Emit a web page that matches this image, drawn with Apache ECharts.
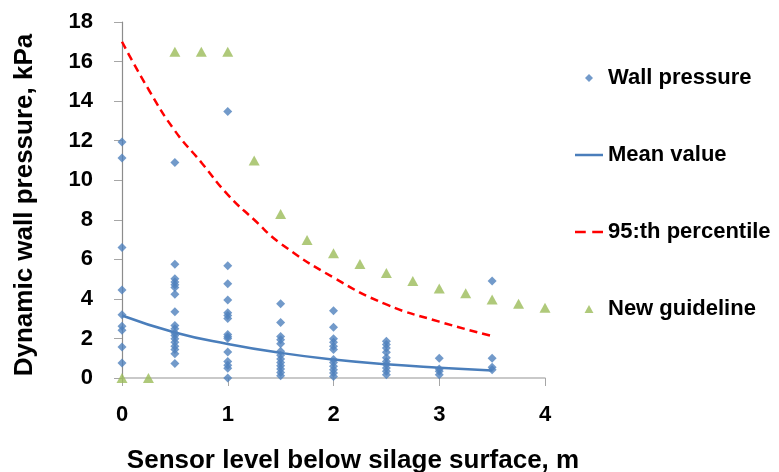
<!DOCTYPE html>
<html>
<head>
<meta charset="utf-8">
<script src="https://cdn.jsdelivr.net/npm/echarts@6/dist/echarts.min.js"></script>
<style>
html,body{margin:0;padding:0;background:#fff;}
#chart{width:779px;height:472px;}
</style>
</head>
<body>
<div id="chart"></div>
<script>
// Sensor levels (m) and wall pressure readings (kPa) at each level
const levels = [0, 0.5, 1, 1.5, 2, 2.5, 3, 3.5];
const wallAt0   = [11.93, 11.12, 6.6, 4.45, 3.2, 2.62, 2.42, 1.57, 0.76];
const wallAt05  = [10.89, 5.75, 5.02, 4.85, 4.72, 4.57, 4.23, 3.35, 2.65, 2.49, 2.28, 2.15, 1.98, 1.81, 1.6, 1.44, 1.23, 0.73];
const wallAt1   = [13.48, 5.68, 4.77, 3.94, 3.3, 3.16, 3.01, 2.2, 2.08, 2.0, 1.32, 0.84, 0.64, 0.49, 0.0];
const wallAt15  = [3.76, 2.81, 2.1, 1.94, 1.73, 1.35, 1.15, 0.96, 0.79, 0.62, 0.46, 0.28, 0.12];
const wallAt2   = [3.4, 2.57, 1.98, 1.81, 1.6, 1.44, 0.93, 0.79, 0.59, 0.42, 0.25, 0.08];
const wallAt25  = [1.86, 1.69, 1.52, 1.3, 1.02, 0.84, 0.68, 0.51, 0.34, 0.17];
const wallAt3   = [1.0, 0.46, 0.34, 0.17];
const wallAt35  = [4.9, 1.0, 0.54, 0.42];

// Mean value curve
const meanX = [0, 0.5, 1, 1.5, 2, 2.5, 3, 3.5];
const meanY = [3.16, 2.3, 1.72, 1.27, 0.93, 0.69, 0.52, 0.38];

// 95:th percentile curve
const p95X = [0, 0.25, 0.5, 0.75, 1, 1.25, 1.5, 2, 2.5, 3, 3.5];
const p95Y = [17.0, 14.6, 12.5, 10.9, 9.27, 8.0, 6.8, 5.08, 3.72, 2.85, 2.12];

// New guideline
const guideX = [0, 0.25, 0.5, 0.75, 1, 1.25, 1.5, 1.75, 2, 2.25, 2.5, 2.75, 3, 3.25, 3.5, 3.75, 4];
const guideY = [0, 0, 16.5, 16.5, 16.5, 11.0, 8.29, 6.98, 6.31, 5.77, 5.31, 4.9, 4.53, 4.28, 3.97, 3.75, 3.55];

const seriesNames = ['Wall pressure', 'Mean value', '95:th percentile', 'New guideline'];
const xAxisTitle = 'Sensor level below silage surface, m';
const yAxisTitle = 'Dynamic wall pressure, kPa';

const wallGroups = [wallAt0, wallAt05, wallAt1, wallAt15, wallAt2, wallAt25, wallAt3, wallAt35];
const wallData = [];
wallGroups.forEach((g, i) => g.forEach(v => wallData.push([levels[i], v])));
const zip = (xs, ys) => xs.map((x, i) => [x, ys[i]]);

const BLUE = '#4f81bd', LINEBLUE = '#4a7ebb', RED = '#ff0000', GREEN = '#9bbb59';
const FONT = 'Liberation Sans';

const chart = echarts.init(document.getElementById('chart'), null, {renderer: 'canvas'});
chart.setOption({
  animation: false,
  backgroundColor: '#ffffff',
  grid: {left: 122, right: 234, top: 22, bottom: 94, containLabel: false, outerBoundsMode: 'none'},
  legend: {
    orient: 'vertical',
    left: 570,
    top: 61,
    itemWidth: 28,
    itemHeight: 8,
    itemGap: 53,
    symbolKeepAspect: true,
    data: [
      {name: seriesNames[0], icon: 'path://M0,5L5,0L10,5L5,10Z', itemStyle: {color: BLUE}},
      {name: seriesNames[1], icon: 'path://M0,0L28,0L28,2.5L0,2.5Z', itemStyle: {color: LINEBLUE}},
      {name: seriesNames[2], icon: 'path://M0,0L10,0L10,2.5L0,2.5ZM16,0L26,0L26,2.5L16,2.5Z', itemStyle: {color: RED}},
      {name: seriesNames[3], icon: 'path://M5,0L10,9L0,9Z', itemStyle: {color: GREEN}}
    ],
    textStyle: {fontFamily: FONT, fontWeight: 'bold', fontSize: 22, color: '#000', lineHeight: 24}
  },
  xAxis: {
    type: 'value', min: 0, max: 4, interval: 1,
    name: xAxisTitle, nameLocation: 'middle', nameGap: 70,
    nameTextStyle: {fontFamily: FONT, fontWeight: 'bold', fontSize: 26, color: '#000', padding: [0, 0, 0, 39]},
    axisLine: {show: true, onZero: false, lineStyle: {color: '#b8b8b8', width: 1.5}},
    axisTick: {show: true, inside: false, length: 8, lineStyle: {color: '#a6a6a6', width: 1}},
    axisLabel: {margin: 26, fontFamily: FONT, fontWeight: 'bold', fontSize: 22, color: '#000'},
    splitLine: {show: false}
  },
  yAxis: {
    type: 'value', min: 0, max: 18, interval: 2,
    name: yAxisTitle, nameLocation: 'middle', nameGap: 84,
    nameTextStyle: {fontFamily: FONT, fontWeight: 'bold', fontSize: 26, color: '#000', padding: [0, 10, 0, 0]},
    axisLine: {show: true, lineStyle: {color: '#8c8c8c', width: 1.2}},
    axisTick: {show: true, inside: false, length: 8, lineStyle: {color: '#a6a6a6', width: 1}},
    axisLabel: {margin: 29, fontFamily: FONT, fontWeight: 'bold', fontSize: 22, color: '#000'},
    splitLine: {show: false}
  },
  series: [
    {
      name: seriesNames[0], type: 'scatter', symbol: 'diamond', symbolSize: 9,
      itemStyle: {color: BLUE}, data: wallData, z: 3
    },
    {
      name: seriesNames[1], type: 'line', smooth: true, symbol: 'none', showSymbol: false,
      lineStyle: {color: LINEBLUE, width: 2.5}, itemStyle: {color: LINEBLUE},
      data: zip(meanX, meanY), z: 2
    },
    {
      name: seriesNames[2], type: 'line', smooth: true, symbol: 'none', showSymbol: false,
      lineStyle: {color: RED, width: 2.5, type: [8, 5]}, itemStyle: {color: RED},
      data: zip(p95X, p95Y), z: 2
    },
    {
      name: seriesNames[3], type: 'scatter', symbol: 'triangle', symbolSize: [11, 10],
      itemStyle: {color: GREEN}, data: zip(guideX, guideY), z: 3
    }
  ]
});
</script>
</body>
</html>
